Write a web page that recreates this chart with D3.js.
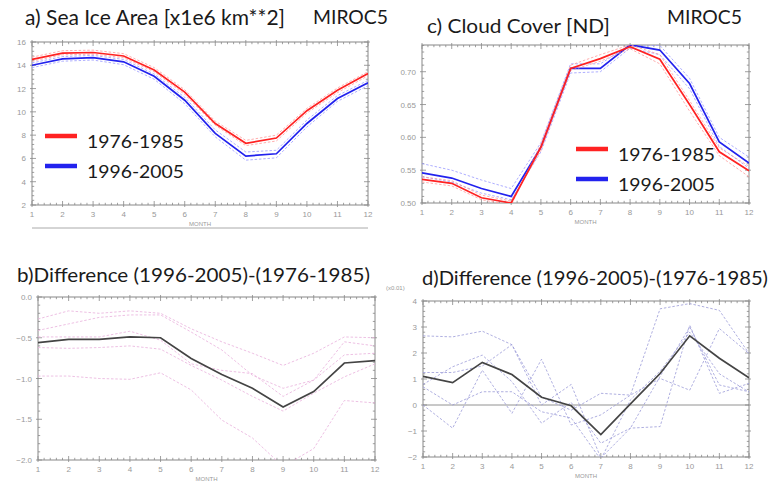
<!DOCTYPE html>
<html>
<head>
  <meta charset="utf-8">
  <title>MIROC5 Sea Ice Area and Cloud Cover</title>
  <script src="https://d3js.org/d3.v7.min.js"></script>
  <style>
    body { margin: 0; background: #fff; }
    .tick-label { font-family: "Liberation Sans", Arial, sans-serif; font-size: 8px; fill: #999; }
    .title { font-family: Lato, "Open Sans", sans-serif; fill: #1a1a1a; }
  </style>
</head>
<body>
  <svg id="chart" width="779" height="487"></svg>

  <script>
    // months on the x axis
    var months = [1, 2, 3, 4, 5, 6, 7, 8, 9, 10, 11, 12];
    var periods = ["1976-1985", "1996-2005"];

    // a) sea ice area, ensemble mean and members
    var ice7685 = [14.5, 15.05, 15.1, 14.8, 13.6, 11.7, 9.0, 7.3, 7.75, 10.1, 11.85, 13.3];
    var ice9605 = [14.0, 14.55, 14.65, 14.3, 13.05, 11.0, 8.15, 6.2, 6.4, 9.0, 11.15, 12.5];
    var ice7685Members = [
      [14.7, 15.25, 15.3, 15.0, 13.8, 11.9, 9.2, 7.55, 8.0, 10.3, 12.05, 13.45],
      [14.35, 14.9, 14.95, 14.65, 13.45, 11.5, 8.85, 7.1, 7.5, 9.9, 11.65, 13.1]
    ];
    var ice9605Members = [
      [14.2, 14.75, 14.85, 14.5, 13.25, 11.25, 8.45, 6.55, 6.7, 9.3, 11.4, 12.7],
      [13.8, 14.35, 14.45, 14.05, 12.8, 10.7, 7.85, 5.85, 6.05, 8.7, 10.9, 12.25]
    ];
    var iceTicks = [2, 4, 6, 8, 10, 12, 14, 16];

    // b) sea ice difference
    var iceDiff = [-0.56, -0.52, -0.52, -0.49, -0.5, -0.755, -0.95, -1.12, -1.35, -1.16, -0.81, -0.78];
    var iceDiffMembers = [
      [-0.27, -0.17, -0.2, -0.17, -0.2, -0.39, -0.55, -0.69, -0.84, -0.69, -0.49, -0.5],
      [-0.41, -0.33, -0.25, -0.22, -0.22, -0.43, -0.65, -0.96, -1.12, -1.02, -0.55, -0.6],
      [-0.49, -0.49, -0.49, -0.42, -0.53, -0.82, -0.9, -0.94, -1.22, -1.02, -0.71, -0.69],
      [-0.62, -0.63, -0.62, -0.6, -0.64, -0.84, -1.02, -1.22, -1.4, -1.18, -0.98, -0.82],
      [-0.97, -0.97, -1.0, -1.01, -0.93, -1.14, -1.51, -1.73, -2.08, -1.86, -1.27, -1.3]
    ];
    var iceDiffTicks = [-2.0, -1.5, -1.0, -0.5, 0.0];

    // c) cloud cover
    var cld7685 = [0.536, 0.530, 0.508, 0.500, 0.585, 0.705, 0.720, 0.738, 0.719, 0.650, 0.578, 0.549];
    var cld9605 = [0.546, 0.538, 0.522, 0.510, 0.585, 0.705, 0.705, 0.741, 0.733, 0.682, 0.593, 0.561];
    var cld7685Members = [
      [0.540, 0.534, 0.512, 0.503, 0.580, 0.702, 0.716, 0.735, 0.712, 0.640, 0.572, 0.540],
      [0.532, 0.526, 0.505, 0.497, 0.590, 0.710, 0.726, 0.741, 0.726, 0.656, 0.584, 0.556]
    ];
    var cld9605Members = [
      [0.560, 0.550, 0.535, 0.522, 0.592, 0.712, 0.712, 0.741, 0.740, 0.690, 0.600, 0.570],
      [0.540, 0.532, 0.515, 0.505, 0.578, 0.698, 0.700, 0.736, 0.726, 0.674, 0.586, 0.553]
    ];
    var cldTicks = [0.50, 0.55, 0.60, 0.65, 0.70];

    // d) cloud cover difference (x0.01)
    var cldDiff = [1.1, 0.86, 1.64, 1.17, 0.3, -0.03, -1.14, 0.04, 1.21, 2.66, 1.8, 1.05];
    var cldDiffMembers = [
      [2.66, 2.62, 2.84, 2.32, 0.3, -0.2, 0.45, 0.38, 3.7, 3.9, 3.64, 1.98],
      [0.79, 1.47, 1.92, 0.9, -0.7, 0.1, -1.47, -0.89, -0.83, 3.07, 0.45, 0.83],
      [0.0, -0.89, 1.34, -0.32, 1.76, -0.77, -0.38, 0.38, 1.02, 0.57, 2.94, 1.98],
      [1.25, 1.25, 1.5, 2.32, 0.0, 0.79, -2.04, -0.89, 1.1, 3.0, 0.77, 0.51],
      [0.7, 0.0, 0.51, 0.51, -0.26, -0.5, -2.1, 0.2, 1.3, 2.8, 1.2, 0.5]
    ];
    var cldDiffTicks = [-2, -1, 0, 1, 2, 3, 4];

    var svg = d3.select("#chart");
    var fmtMinus = function(f) { return function(d) { return f(d).replace("-", "\u2212"); }; };

    // one panel: frame, ticks, labels; returns scales
    function panel(o) {
      var g = svg.append("g");
      var x = d3.scaleLinear().domain([1, 12]).range([o.x0, o.x1]);
      var y = d3.scaleLinear().domain(o.ydom).range([o.y1, o.y0]);

      var clipId = "clip" + o.id;
      svg.append("clipPath").attr("id", clipId)
        .append("rect").attr("x", o.x0).attr("y", o.y0)
        .attr("width", o.x1 - o.x0).attr("height", o.y1 - o.y0);

      // minor x ticks
      var xMinor = d3.range(1, 12.01, 0.2);
      xMinor.forEach(function(v) {
        var major = Math.abs(v - Math.round(v)) < 1e-6;
        var len = major ? 4 : 2.2;
        g.append("line").attr("x1", x(v)).attr("x2", x(v))
          .attr("y1", o.y1 - len).attr("y2", o.y1 + (major ? 2 : 0))
          .attr("stroke", "#888").attr("stroke-width", 0.8);
        g.append("line").attr("x1", x(v)).attr("x2", x(v))
          .attr("y1", o.y0 + len).attr("y2", o.y0 - (major ? 2 : 0))
          .attr("stroke", "#888").attr("stroke-width", 0.8);
      });
      var step = o.ticks[1] - o.ticks[0];
      var yMinor = d3.range(o.ydom[0], o.ydom[1] + 1e-9, step / 5);
      yMinor.forEach(function(v) {
        var major = o.ticks.some(function(t) { return Math.abs(t - v) < 1e-6; });
        var len = major ? 4 : 2.2;
        g.append("line").attr("y1", y(v)).attr("y2", y(v))
          .attr("x1", o.x0 - (major ? 2 : 0)).attr("x2", o.x0 + len)
          .attr("stroke", "#888").attr("stroke-width", 0.8);
        g.append("line").attr("y1", y(v)).attr("y2", y(v))
          .attr("x1", o.x1 + (major ? 2 : 0)).attr("x2", o.x1 - len)
          .attr("stroke", "#888").attr("stroke-width", 0.8);
      });

      g.append("rect").attr("x", o.x0).attr("y", o.y0)
        .attr("width", o.x1 - o.x0).attr("height", o.y1 - o.y0)
        .attr("fill", "none").attr("stroke", "#888").attr("stroke-width", 1);

      g.selectAll(".xl").data(months).enter().append("text")
        .attr("class", "tick-label").attr("x", function(d) { return x(d); })
        .attr("y", o.y1 + 12).attr("text-anchor", "middle").text(function(d) { return d; });
      g.selectAll(".yl").data(o.ticks).enter().append("text")
        .attr("class", "tick-label").attr("x", o.x0 - 6)
        .attr("y", function(d) { return y(d) + 3; }).attr("text-anchor", "end")
        .text(o.fmt);
      g.append("text").attr("class", "tick-label").style("font-size", "6px")
        .attr("x", (o.x0 + o.x1) / 2).attr("y", o.y1 + 21)
        .attr("text-anchor", "middle").text("MONTH");

      var line = d3.line().x(function(d, i) { return x(months[i]); }).y(function(d) { return y(d); });
      var plot = svg.append("g").attr("clip-path", "url(#" + clipId + ")");
      return { x: x, y: y, line: line, plot: plot };
    }

    function drawLines(p, members, mean, color, dashColor) {
      members.forEach(function(m) {
        p.plot.append("path").datum(m).attr("d", p.line)
          .attr("fill", "none").attr("stroke", dashColor)
          .attr("stroke-width", 0.8).attr("stroke-dasharray", "2.5,1.8");
      });
      p.plot.append("path").datum(mean).attr("d", p.line)
        .attr("fill", "none").attr("stroke", color).attr("stroke-width", 1.7);
    }

    function title(txt, x, y, size, w) {
      svg.append("text").attr("class", "title").attr("x", x).attr("y", y)
        .style("font-size", size + "px")
        .attr("textLength", w).attr("lengthAdjust", "spacingAndGlyphs").text(txt);
    }

    function legend(x, y, colors) {
      periods.forEach(function(p, i) {
        var yy = y + i * 30;
        svg.append("line").attr("x1", x).attr("x2", x + 32).attr("y1", yy).attr("y2", yy)
          .attr("stroke", colors[i]).attr("stroke-width", 4.5);
        svg.append("text").attr("class", "title").attr("x", x + 42).attr("y", yy + 12)
          .style("font-size", "17px").attr("textLength", 97)
          .attr("lengthAdjust", "spacingAndGlyphs").text(p);
      });
    }

    // a) sea ice area
    var pa = panel({ id: "a", x0: 32, x1: 368, y0: 42, y1: 205, ydom: [2, 16], ticks: iceTicks,
      fmt: function(d) { return d; } });
    drawLines(pa, ice7685Members, ice7685, "#f22", "#f99");
    drawLines(pa, ice9605Members, ice9605, "#22e", "#99f");
    svg.append("line").attr("x1", 32).attr("x2", 368).attr("y1", 228).attr("y2", 228)
      .attr("stroke", "#aaa").attr("stroke-width", 1);
    title("a) Sea Ice Area [x1e6 km**2]", 25, 25, 21, 260);
    title("MIROC5", 313, 24, 19, 75);
    legend(45, 136, ["#f22", "#22e"]);

    // c) cloud cover
    var pc = panel({ id: "c", x0: 422, x1: 749, y0: 45, y1: 203, ydom: [0.5, 0.7407], ticks: cldTicks,
      fmt: d3.format(".2f") });
    drawLines(pc, cld9605Members, cld9605, "#22e", "#99f");
    drawLines(pc, cld7685Members, cld7685, "#f22", "#f99");
    title("c) Cloud Cover [ND]", 427, 33, 19, 183);
    title("MIROC5", 667, 24, 19, 75);
    legend(576, 149, ["#f22", "#22e"]);

    // b) sea ice difference
    var pb = panel({ id: "b", x0: 38, x1: 375, y0: 297, y1: 460, ydom: [-2, 0], ticks: iceDiffTicks,
      fmt: fmtMinus(d3.format(".1f")) });
    drawLines(pb, iceDiffMembers, iceDiff, "#444", "#e8b0dc");
    title("b)Difference (1996-2005)-(1976-1985)", 17, 282, 20, 353);

    // d) cloud cover difference
    var pd = panel({ id: "d", x0: 423, x1: 749, y0: 301, y1: 457, ydom: [-2, 4], ticks: cldDiffTicks,
      fmt: fmtMinus(d3.format("d")) });
    pd.plot.append("line").attr("x1", 423).attr("x2", 749)
      .attr("y1", pd.y(0)).attr("y2", pd.y(0)).attr("stroke", "#777").attr("stroke-width", 0.8);
    drawLines(pd, cldDiffMembers, cldDiff, "#444", "#9a9ad8");
    title("d)Difference (1996-2005)-(1976-1985)", 422, 285, 20, 346);
    svg.append("text").attr("class", "tick-label").style("font-size", "6px")
      .attr("x", 386).attr("y", 290).text("(x0.01)");
  </script>
</body>
</html>
